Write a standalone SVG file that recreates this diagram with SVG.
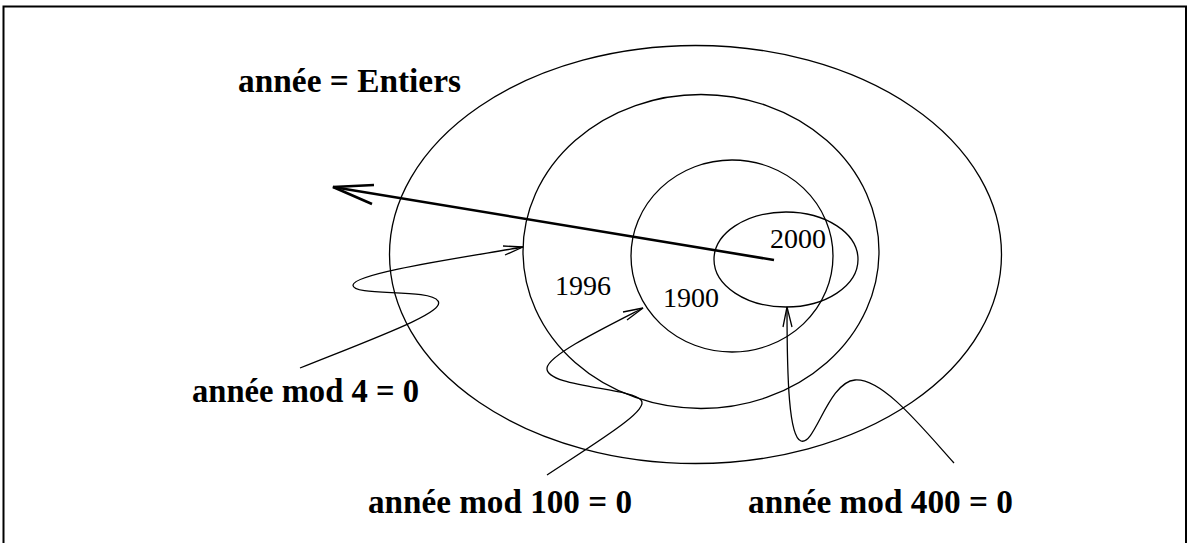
<svg xmlns="http://www.w3.org/2000/svg" width="1189" height="543" viewBox="0 0 1189 543">
<style>
.ring{fill:none;stroke:#000;stroke-width:1.3}
.thin{fill:none;stroke:#000;stroke-width:1.3}
.thick{fill:none;stroke:#000;stroke-width:2.6}
.lbl{font-family:"Liberation Serif","Times New Roman",serif;font-weight:bold;font-size:34px;fill:#000}
.num{font-family:"Liberation Serif","Times New Roman",serif;font-size:28px;fill:#000}
</style>
<rect width="1189" height="543" fill="#fff"/>
<polyline points="3.5,543 3.5,6.5 1186,6.5 1186,543" fill="none" stroke="#000" stroke-width="2"/>
<g id="entiers">
<ellipse class="ring" cx="695.5" cy="254.5" rx="306" ry="209"/>
<text class="lbl" x="238" y="92" textLength="223" lengthAdjust="spacingAndGlyphs">année = Entiers</text>
</g>
<g id="mod4">
<ellipse class="ring" cx="701" cy="251.5" rx="178" ry="157"/>
<text class="num" x="555" y="295">1996</text>
<text class="lbl" x="192" y="402" textLength="227" lengthAdjust="spacingAndGlyphs">année mod 4 = 0</text>
</g>
<g id="mod100">
<ellipse class="ring" cx="732" cy="256" rx="101" ry="96"/>
<text class="num" x="663" y="307">1900</text>
<text class="lbl" x="368" y="513" textLength="264" lengthAdjust="spacingAndGlyphs">année mod 100 = 0</text>
</g>
<g id="mod400">
<ellipse class="ring" cx="786" cy="259.5" rx="72" ry="47.5"/>
<text class="num" x="770" y="248">2000</text>
<text class="lbl" x="748" y="513" textLength="265" lengthAdjust="spacingAndGlyphs">année mod 400 = 0</text>
</g>
<g id="connectors">
<path class="thick" d="M774,260 L333,187"/>
<path class="thick" d="M374,185 L333,187 L372,204"/>
<path class="thin" d="M300,368 C380,336 446,312 438,301 C430,288 352,297 353,285 C355,273 460,258 523,247"/>
<path class="thin" d="M503,246 L523,247 L505,255"/>
<path class="thin" d="M547,475 C600,440 650,410 641,400 C632,388 545,387 547,368 C549,355 600,330 643,308"/>
<path class="thin" d="M623,312 L643,308 L627,320"/>
<path class="thin" d="M954,463 C920,425 882,378 855,380 C828,382 815,446 801,441 C789,437 787,380 787,307"/>
<path class="thin" d="M783,327 L787,307 L792,327"/>
</g>
</svg>
